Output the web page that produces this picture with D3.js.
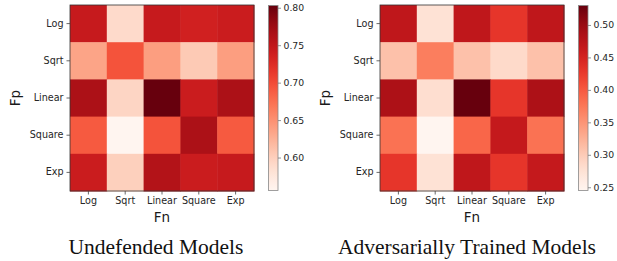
<!DOCTYPE html>
<html><head><meta charset="utf-8">
<script src="https://cdn.jsdelivr.net/npm/d3@7"></script>
<style>
body{margin:0;background:#fff;}
svg{display:block;}
.tick text{font-family:"DejaVu Sans",sans-serif;fill:#262626;}
</style></head>
<body>
<svg id="chart" width="617" height="261"></svg>
<script>
const categories = ["Log","Sqrt","Linear","Square","Exp"];
const rowLabels = ["Log","Sqrt","Linear","Square","Exp"];
// rows = Fp, columns = Fn
const undefendedValues = [
  [0.745, 0.590, 0.745, 0.737, 0.742],
  [0.635, 0.695, 0.640, 0.605, 0.640],
  [0.765, 0.595, 0.803, 0.742, 0.765],
  [0.690, 0.556, 0.695, 0.765, 0.690],
  [0.742, 0.600, 0.760, 0.742, 0.745]
];
const adversarialValues = [
  [0.470, 0.275, 0.470, 0.430, 0.470],
  [0.310, 0.370, 0.310, 0.285, 0.310],
  [0.485, 0.280, 0.530, 0.430, 0.485],
  [0.380, 0.245, 0.390, 0.465, 0.380],
  [0.430, 0.275, 0.470, 0.430, 0.465]
];
const undefendedTicks = [0.60, 0.65, 0.70, 0.75, 0.80];
const adversarialTicks = [0.25, 0.30, 0.35, 0.40, 0.45, 0.50];
const titles = ["Undefended Models", "Adversarially Trained Models"];

const svg = d3.select("#chart");

function drawPanel(ox, values, ticks) {
  const g = svg.append("g").attr("transform", `translate(${ox},0)`);
  const left = 70, top = 5, w = 184, h = 186;
  const x = d3.scaleBand().domain(categories).range([left, left + w]);
  const y = d3.scaleBand().domain(rowLabels).range([top, top + h]);
  const flat = values.flat();
  const color = d3.scaleSequential(d3.interpolateReds).domain([d3.min(flat), d3.max(flat)]);

  values.forEach((row, i) => {
    row.forEach((v, j) => {
      g.append("rect")
        .attr("x", x(categories[j]))
        .attr("y", y(rowLabels[i]))
        .attr("width", x.bandwidth() + 0.5)
        .attr("height", y.bandwidth() + 0.5)
        .attr("fill", color(v));
    });
  });
  g.append("rect").attr("x", left).attr("y", top).attr("width", w).attr("height", h)
    .attr("fill", "none").attr("stroke", "#333").attr("stroke-width", 0.8);

  const xAxis = g.append("g").attr("transform", `translate(0,${top + h})`)
    .call(d3.axisBottom(x).tickSize(3.5).tickPadding(3));
  const yAxis = g.append("g").attr("transform", `translate(${left},0)`)
    .call(d3.axisLeft(y).tickSize(3.5).tickPadding(3));
  [xAxis, yAxis].forEach(a => {
    a.select(".domain").remove();
    a.selectAll(".tick line").attr("stroke", "#444").attr("stroke-width", 0.8);
    a.selectAll(".tick text").attr("font-size", "9.6px");
  });

  g.append("text").attr("x", left + w / 2).attr("y", 222)
    .attr("text-anchor", "middle").attr("font-family", "DejaVu Sans, sans-serif")
    .attr("font-size", "13.5px").attr("fill", "#1a1a1a").text("Fn");
  g.append("text").attr("transform", `translate(20,${top + h / 2}) rotate(-90)`)
    .attr("text-anchor", "middle").attr("font-family", "DejaVu Sans, sans-serif")
    .attr("font-size", "13.5px").attr("fill", "#1a1a1a").text("Fp");

  // colorbar
  const cbx = 268.5, cbw = 9.5, cbTop = 5.5, cbBot = 190.5;
  const cy = d3.scaleLinear().domain(color.domain()).range([cbBot, cbTop]);
  const gradId = "grad" + ox;
  const grad = svg.append("defs").append("linearGradient").attr("id", gradId)
    .attr("x1", 0).attr("y1", 1).attr("x2", 0).attr("y2", 0);
  d3.range(0, 1.0001, 0.05).forEach(t => {
    grad.append("stop").attr("offset", t)
      .attr("stop-color", color(color.domain()[0] + t * (color.domain()[1] - color.domain()[0])));
  });
  g.append("rect").attr("x", cbx).attr("y", cbTop).attr("width", cbw).attr("height", cbBot - cbTop)
    .attr("fill", `url(#${gradId})`).attr("stroke", "#888").attr("stroke-width", 0.8);
  const cAxis = g.append("g").attr("transform", `translate(${cbx + cbw},0)`)
    .call(d3.axisRight(cy).tickValues(ticks).tickFormat(d3.format(".2f")).tickSize(3).tickPadding(2.5));
  cAxis.select(".domain").remove();
  cAxis.selectAll(".tick line").attr("stroke", "#777").attr("stroke-width", 0.8);
  cAxis.selectAll(".tick text").attr("font-size", "9.3px").attr("fill", "#555");

  return g;
}

drawPanel(0, undefendedValues, undefendedTicks);
drawPanel(310, adversarialValues, adversarialTicks);

svg.append("text").attr("x", 156).attr("y", 254).attr("text-anchor", "middle")
  .attr("font-family", "Liberation Serif, Times New Roman, serif").attr("font-size", "21.5px")
  .attr("fill", "#111").text(titles[0]);
svg.append("text").attr("x", 467).attr("y", 254).attr("text-anchor", "middle")
  .attr("font-family", "Liberation Serif, Times New Roman, serif").attr("font-size", "21.5px")
  .attr("fill", "#111").text(titles[1]);
</script>
</body></html>
